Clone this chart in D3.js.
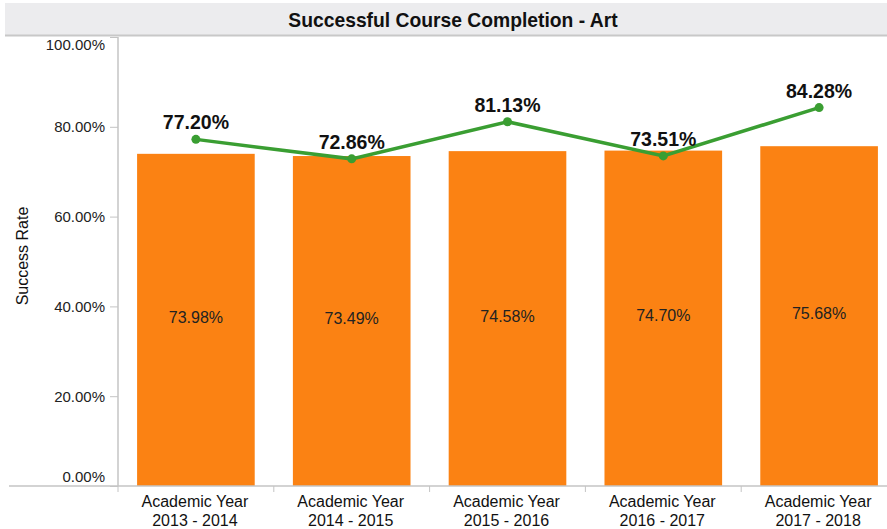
<!DOCTYPE html>
<html><head><meta charset="utf-8">
<script src="https://cdn.jsdelivr.net/npm/d3@7"></script>
<style>body{margin:0;background:#fff;}svg{display:block;font-family:"Liberation Sans",Arial,sans-serif;}</style>
</head><body><svg id="c" width="887" height="529"></svg>
<script>
const categories = ["Academic Year\n2013 - 2014","Academic Year\n2014 - 2015","Academic Year\n2015 - 2016","Academic Year\n2016 - 2017","Academic Year\n2017 - 2018"];
const barValues = [73.98, 73.49, 74.58, 74.70, 75.68];
const lineValues = [77.20, 72.86, 81.13, 73.51, 84.28];
const yTicks = [0, 20, 40, 60, 80, 100];
const title = "Successful Course Completion - Art";
const yTitle = "Success Rate";

const svg = d3.select("#c");
const x = d3.scaleBand().domain(categories).range([118, 897]).paddingInner(0.245).paddingOuter(0.1225);
const y = d3.scaleLinear().domain([0, 100]).range([486, 37]);

// title band
svg.append("rect").attr("x", 5).attr("y", 3).attr("width", 882).attr("height", 32).attr("fill", "#ececee");
svg.append("line").attr("x1", 5).attr("x2", 887).attr("y1", 35.5).attr("y2", 35.5).attr("stroke", "#c8c8c8").attr("stroke-width", 2);
svg.append("text").attr("x", 453).attr("y", 27).attr("text-anchor", "middle")
  .attr("font-size", 19.3).attr("font-weight", "bold").attr("fill", "#111").text(title);

// bars
svg.selectAll("rect.bar").data(barValues).enter().append("rect").attr("class", "bar")
  .attr("x", (d, i) => x(categories[i])).attr("width", x.bandwidth())
  .attr("y", d => y(d)).attr("height", d => y(0) - y(d)).attr("fill", "#fb8213");
svg.selectAll("text.bl").data(barValues).enter().append("text").attr("class", "bl")
  .attr("x", (d, i) => x(categories[i]) + x.bandwidth() / 2).attr("y", d => (y(d) + y(0)) / 2 + 3)
  .attr("text-anchor", "middle").attr("font-size", 16).attr("fill", "#222").text(d => d.toFixed(2) + "%");

// y axis
const yAxis = d3.axisLeft(y).tickValues(yTicks).tickSize(8).tickPadding(5).tickFormat(d => d.toFixed(2) + "%");
const ga = svg.append("g").attr("transform", "translate(118,0)").call(yAxis);
ga.select(".domain").attr("stroke", "#c4c4c4").attr("stroke-width", 1.5).attr("d", "M0,37V486");
ga.selectAll(".tick line").attr("stroke", "#c4c4c4");
ga.selectAll(".tick text").attr("font-size", 15).attr("fill", "#222").attr("font-family", "Liberation Sans, Arial, sans-serif")
  .attr("dy", d => d === 100 ? "0.85em" : d === 0 ? "-0.3em" : "0.32em");
svg.append("text").attr("transform", "translate(28,256) rotate(-90)").attr("text-anchor", "middle")
  .attr("font-size", 16).attr("fill", "#111").text(yTitle);

// x axis
svg.append("line").attr("x1", 9).attr("x2", 887).attr("y1", 486).attr("y2", 486).attr("stroke", "#c4c4c4").attr("stroke-width", 1.5);
const bounds = categories.map(c => x(c) - x.step() * x.paddingInner() / 2).concat([x(categories[4]) + x.step() - x.step() * x.paddingInner() / 2]);
svg.selectAll("line.xt").data(bounds).enter().append("line").attr("class", "xt")
  .attr("x1", d => d).attr("x2", d => d).attr("y1", 486).attr("y2", 492).attr("stroke", "#c4c4c4");
categories.forEach(c => {
  const cxv = x(c) + x.bandwidth() / 2 - 1;
  const t = svg.append("text").attr("x", cxv).attr("y", 507).attr("text-anchor", "middle")
    .attr("font-size", 16).attr("fill", "#111");
  c.split("\n").forEach((s, j) => t.append("tspan").attr("x", cxv).attr("dy", j ? 19 : 0).text(s));
});

// line
const cx = (d, i) => x(categories[i]) + x.bandwidth() / 2;
svg.append("path").datum(lineValues).attr("fill", "none").attr("stroke", "#3a9e32").attr("stroke-width", 3.5)
  .attr("d", d3.line().x(cx).y(d => y(d)));
svg.selectAll("circle.pt").data(lineValues).enter().append("circle").attr("class", "pt")
  .attr("cx", cx).attr("cy", d => y(d)).attr("r", 4.5).attr("fill", "#3a9e32");
svg.selectAll("text.pl").data(lineValues).enter().append("text").attr("class", "pl")
  .attr("x", cx).attr("y", d => y(d) - 10).attr("text-anchor", "middle")
  .attr("font-size", 19.5).attr("font-weight", "bold").attr("fill", "#111").text(d => d.toFixed(2) + "%");
</script></body></html>
